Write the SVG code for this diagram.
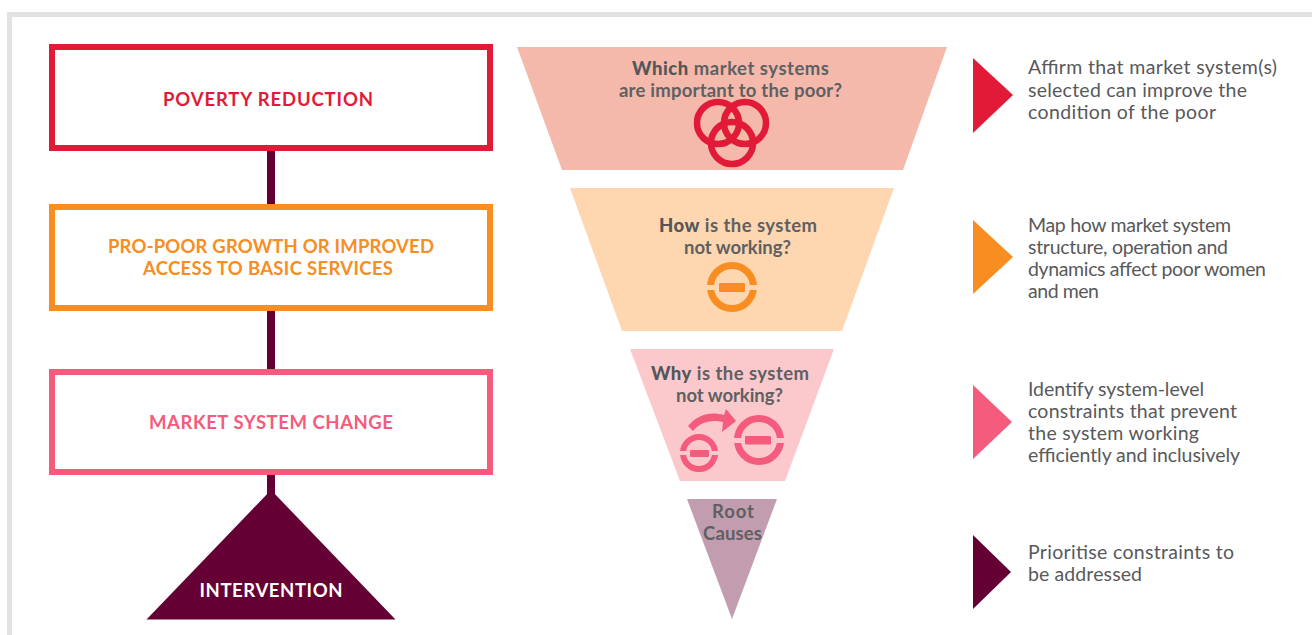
<svg xmlns="http://www.w3.org/2000/svg" width="1312" height="635" viewBox="0 0 1312 635">
<style>
text{font-family:Lato,"Noto Sans",sans-serif}
.box{fill:#fff;stroke-width:6}
.lab{font-size:18.500px;font-weight:700;text-anchor:middle}
.q{font-size:18.500px;font-weight:700;fill:#5e6062;text-anchor:middle}
.q .b{font-weight:900;fill:#54565a}
.d{font-size:19.500px;fill:#58595b}
.ring{fill:none}
</style>
<rect width="1312" height="635" fill="#fff"/>
<path id="frame" d="M7 635V12H1312V17H12V635Z" fill="#e1e2e3"/>
<g id="connectors">
<rect x="267" y="150" width="8" height="58" fill="#650034"/>
<rect x="267" y="308" width="8" height="64" fill="#650034"/>
<rect x="267" y="473" width="8" height="24" fill="#650034"/>
</g>
<g id="poverty-reduction"><rect class="box" x="52" y="47" width="438" height="101" stroke="#e11a38"/><text class="lab" x="268" y="106" fill="#e11a38" textLength="210">POVERTY REDUCTION</text></g>
<g id="pro-poor-growth"><rect class="box" x="52" y="207" width="438" height="101" stroke="#f88d22"/><text class="lab" x="271" y="253" fill="#f88d22" textLength="326">PRO-POOR GROWTH OR IMPROVED</text><text class="lab" x="268" y="275" fill="#f88d22" textLength="250">ACCESS TO BASIC SERVICES</text></g>
<g id="market-system-change"><rect class="box" x="52" y="372" width="438" height="100" stroke="#f45b7c"/><text class="lab" x="271" y="429" fill="#f45b7c" textLength="244">MARKET SYSTEM CHANGE</text></g>
<g id="intervention"><path d="M271 490L395.500 619.500H146.500Z" fill="#650034"/><text class="lab" x="271" y="597" fill="#fff" textLength="143">INTERVENTION</text></g>
<g id="funnel-which"><path d="M517 47H947L903 170H562Z" fill="#f4b9ab"/>
<text class="q" x="730.500" y="75" textLength="197"><tspan class="b">Which</tspan> market systems</text><text class="q" x="730.500" y="97" textLength="223">are important to the poor?</text>
<g class="ring" stroke="#e11a38" stroke-width="6.500"><circle cx="718" cy="123" r="21"/><circle cx="745" cy="123" r="21"/><circle cx="732" cy="143" r="21"/></g></g>
<g id="funnel-how"><path d="M570 188H894L842 331H622Z" fill="#fed6b0"/>
<text class="q" x="738" y="232" textLength="158"><tspan class="b">How</tspan> is the system</text><text class="q" x="737.500" y="254" textLength="107">not working?</text>
<circle class="ring" cx="732" cy="287" r="21.500" stroke="#f88d22" stroke-width="7"/><rect x="700" y="285" width="64" height="5" fill="#fed6b0"/><rect x="719" y="283" width="26" height="9" rx="1" fill="#f88d22"/></g>
<g id="funnel-why"><path d="M630 349H834L785 481H680Z" fill="#fbc9cc"/>
<text class="q" x="730" y="380" textLength="158"><tspan class="b">Why</tspan> is the system</text><text class="q" x="729.500" y="402" textLength="107">not working?</text>
<circle class="ring" cx="699" cy="453" r="16" stroke="#f45b7c" stroke-width="6"/><rect x="675" y="451" width="48" height="4" fill="#fbc9cc"/><rect x="690" y="450" width="19" height="7" rx="1" fill="#f45b7c"/>
<circle class="ring" cx="759" cy="440" r="21.500" stroke="#f45b7c" stroke-width="7"/><rect x="727" y="438" width="64" height="5" fill="#fbc9cc"/><rect x="745" y="436" width="26" height="8.500" rx="1" fill="#f45b7c"/>
<path d="M688 426C697 415 710 411 724 415L726 409L736 421L722 432L723 422C711 419 700 422 693 431Z" fill="#f45b7c"/></g>
<g id="funnel-root"><path d="M687 499H777L732 619Z" fill="#c29daf"/><text class="q" x="733" y="518" textLength="42">Root</text><text class="q" x="732.500" y="540" textLength="59">Causes</text></g>
<g id="step-affirm"><path d="M973 58L1013 95L973 133Z" fill="#e11a38"/><text class="d" x="1028" y="74" textLength="249">Affirm that market system(s)</text><text class="d" x="1028" y="97" textLength="219">selected can improve the</text><text class="d" x="1028" y="119" textLength="188">condition of the poor</text></g>
<g id="step-map"><path d="M973 220L1013 257L973 294Z" fill="#f88d22"/><text class="d" x="1028" y="232" textLength="203">Map how market system</text><text class="d" x="1028" y="254" textLength="200">structure, operation and</text><text class="d" x="1028" y="276" textLength="238">dynamics affect poor women</text><text class="d" x="1028" y="298" textLength="71">and men</text></g>
<g id="step-identify"><path d="M973 385L1012 422L973 459Z" fill="#f45b7c"/><text class="d" x="1028" y="396" textLength="176">Identify system-level</text><text class="d" x="1028" y="418" textLength="209">constraints that prevent</text><text class="d" x="1028" y="440" textLength="171">the system working</text><text class="d" x="1028" y="462" textLength="212">efficiently and inclusively</text></g>
<g id="step-prioritise"><path d="M973 535L1011 572L973 609Z" fill="#650034"/><text class="d" x="1028" y="559" textLength="206">Prioritise constraints to</text><text class="d" x="1028" y="581" textLength="114">be addressed</text></g>
</svg>
